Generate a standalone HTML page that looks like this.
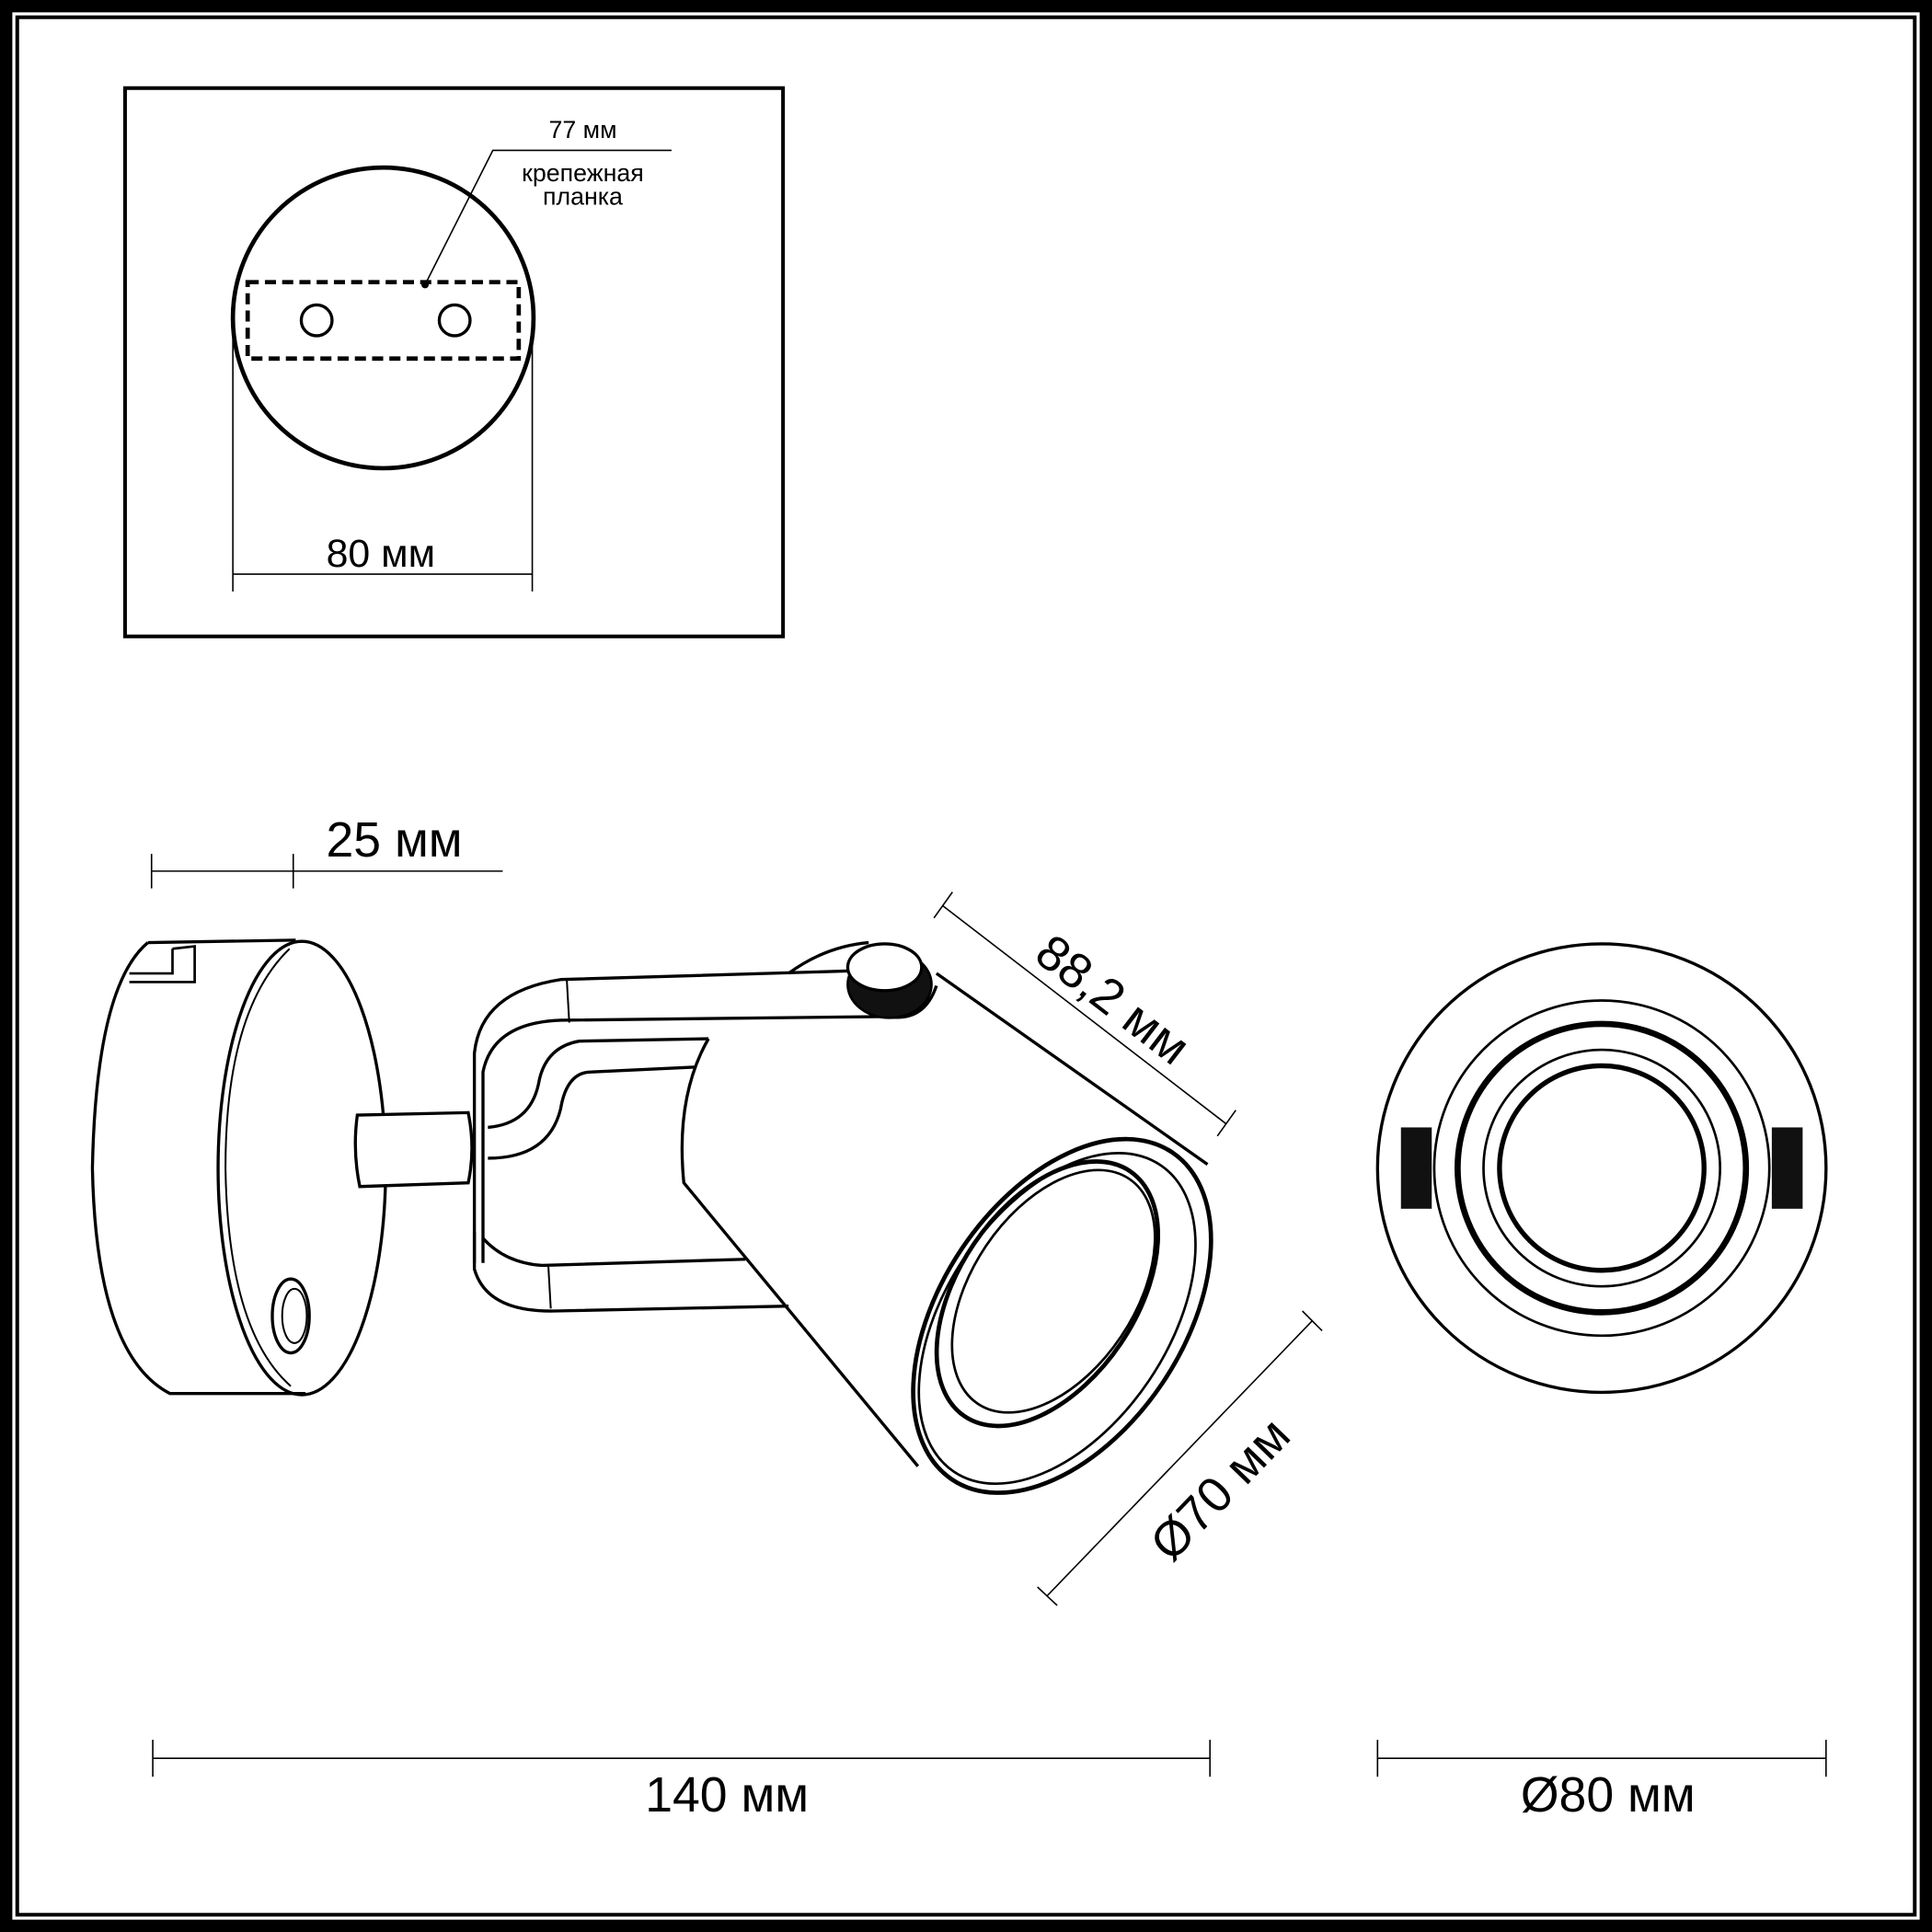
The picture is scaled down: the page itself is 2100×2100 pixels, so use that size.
<!DOCTYPE html>
<html><head><meta charset="utf-8"><style>
html,body{margin:0;padding:0;background:#fff;}
svg{display:block;}
text{font-family:"Liberation Sans",sans-serif;fill:#000;}
</style></head><body>
<svg width="2100" height="2100" viewBox="0 0 1568 1568" xmlns="http://www.w3.org/2000/svg">
<rect x="0" y="0" width="1568" height="1568" fill="#fff"/>
<rect x="5" y="5" width="1558" height="1558" fill="none" stroke="#000" stroke-width="10"/>
<rect x="14" y="14" width="1540" height="1540" fill="none" stroke="#000" stroke-width="3"/>

<!-- inset -->
<rect x="101.5" y="71.5" width="534" height="445" fill="none" stroke="#000" stroke-width="3"/>
<circle cx="311" cy="258" r="122" fill="none" stroke="#000" stroke-width="3.5"/>
<rect x="201" y="229" width="220" height="62" fill="none" stroke="#000" stroke-width="3.5" stroke-dasharray="9,5"/>
<circle cx="257" cy="260" r="12.5" fill="none" stroke="#000" stroke-width="2.5"/>
<circle cx="369" cy="260" r="12.5" fill="none" stroke="#000" stroke-width="2.5"/>
<polyline points="345,231 400,122 545,122" fill="none" stroke="#000" stroke-width="1.2"/>
<circle cx="345" cy="231" r="3" fill="#000"/>
<text x="473" y="112" font-size="20" text-anchor="middle">77 мм</text>
<text x="473" y="147" font-size="20" text-anchor="middle">крепежная</text>
<text x="473" y="166" font-size="20" text-anchor="middle">планка</text>
<line x1="189" y1="258" x2="189" y2="480" stroke="#000" stroke-width="1.2"/>
<line x1="432" y1="258" x2="432" y2="480" stroke="#000" stroke-width="1.2"/>
<line x1="189" y1="466" x2="432" y2="466" stroke="#000" stroke-width="1.2"/>
<text x="309" y="460" font-size="32" text-anchor="middle">80 мм</text>

<!-- 25 mm -->
<line x1="123" y1="707" x2="408" y2="707" stroke="#000" stroke-width="1.2"/>
<line x1="123" y1="693" x2="123" y2="721" stroke="#000" stroke-width="1.2"/>
<line x1="238" y1="693" x2="238" y2="721" stroke="#000" stroke-width="1.2"/>
<text x="320" y="695" font-size="40" text-anchor="middle">25 мм</text>

<!-- base disc -->
<g fill="none" stroke="#000" stroke-width="2.5">
<path d="M120,765 Q78,800 75,948 Q78,1100 138,1131 L248,1131"/>
<path d="M120,765 L240,763"/>
<ellipse cx="245" cy="948" rx="68" ry="184"/>
<path d="M183,948 Q183,820 235,770" stroke-width="1.5"/>
<path d="M183,948 Q185,1080 236,1125" stroke-width="1.5"/>
<path d="M105,790 L140,790 L140,770 M140,770 L158,768 L158,797 L105,797" stroke-width="2"/>
<ellipse cx="236" cy="1068" rx="15" ry="30"/>
<ellipse cx="239" cy="1068" rx="10" ry="22" stroke-width="1.5"/>
<!-- stem -->
<path d="M290,905 L380,903 Q386,932 380,960 L292,963 Q286,934 290,905 Z" fill="#fff"/>
<!-- bracket -->
<path d="M385,1025 L385,855 Q390,805 455,795 L690,788"/>
<path d="M392,1025 L392,870 Q400,830 455,828 L720,825"/>
<path d="M396,915 Q430,912 437,880 Q442,850 470,845 L575,843"/>
<path d="M396,940 Q445,940 455,900 Q460,870 480,870 L565,866"/>
<path d="M385,1000 L385,1030 Q395,1065 450,1064 L640,1060"/>
<path d="M392,1005 Q410,1025 440,1027 L605,1022"/>
<line x1="460" y1="795" x2="462" y2="830" stroke-width="1.5"/>
<line x1="445" y1="1027" x2="447" y2="1062" stroke-width="1.5"/>
<!-- head body -->
<path d="M575,843 Q548,890 555,960 L745,1190"/>
<path d="M760,790 L980,945"/>
<path d="M640,790 Q670,768 705,765"/>
<path d="M720,825 Q750,830 760,800"/>
</g>
<!-- knob -->
<ellipse cx="722" cy="799" rx="34" ry="27" fill="#111" stroke="#000" stroke-width="2"/>
<ellipse cx="718" cy="785" rx="30" ry="19" fill="#fff" stroke="#000" stroke-width="2.5"/>
<!-- lens -->
<g fill="none" stroke="#000">
<ellipse cx="862" cy="1068" rx="160" ry="98" transform="rotate(-56 862 1068)" stroke-width="3.5"/>
<ellipse cx="858" cy="1070" rx="150" ry="90" transform="rotate(-56 858 1070)" stroke-width="2"/>
<ellipse cx="850" cy="1050" rx="120" ry="72" transform="rotate(-56 850 1050)" stroke-width="3.5"/>
<ellipse cx="855" cy="1048" rx="110" ry="66" transform="rotate(-56 855 1048)" stroke-width="2"/>
</g>
<!-- 88,2 dim -->
<g stroke="#000" stroke-width="1.2">
<line x1="765" y1="735" x2="995" y2="912"/>
<line x1="758" y1="745" x2="773" y2="724"/>
<line x1="988" y1="922" x2="1003" y2="901"/>
<line x1="850" y1="1295" x2="1065" y2="1072"/>
<line x1="842" y1="1288" x2="858" y2="1303"/>
<line x1="1057" y1="1064" x2="1073" y2="1080"/>
</g>
<text x="895" y="822" font-size="40" text-anchor="middle" transform="rotate(37.5 895 822)">88,2 мм</text>
<text x="1000" y="1218" font-size="40" text-anchor="middle" transform="rotate(-46 1000 1218)">Ø70 мм</text>

<!-- right view -->
<g fill="none" stroke="#000">
<circle cx="1300" cy="948" r="182" stroke-width="2.5"/>
<circle cx="1300" cy="948" r="136" stroke-width="2"/>
<circle cx="1300" cy="948" r="117" stroke-width="5"/>
<circle cx="1300" cy="948" r="96" stroke-width="2"/>
<circle cx="1300" cy="948" r="83" stroke-width="4"/>
</g>
<rect x="1137" y="915" width="25" height="66" fill="#111"/>
<rect x="1438" y="915" width="25" height="66" fill="#111"/>

<!-- bottom dims -->
<g stroke="#000" stroke-width="1.2">
<line x1="124" y1="1427" x2="982" y2="1427"/>
<line x1="124" y1="1412" x2="124" y2="1442"/>
<line x1="982" y1="1412" x2="982" y2="1442"/>
<line x1="1118" y1="1427" x2="1482" y2="1427"/>
<line x1="1118" y1="1412" x2="1118" y2="1442"/>
<line x1="1482" y1="1412" x2="1482" y2="1442"/>
</g>
<text x="590" y="1470" font-size="40" text-anchor="middle">140 мм</text>
<text x="1305" y="1470" font-size="40" text-anchor="middle">Ø80 мм</text>
</svg>
</body></html>
